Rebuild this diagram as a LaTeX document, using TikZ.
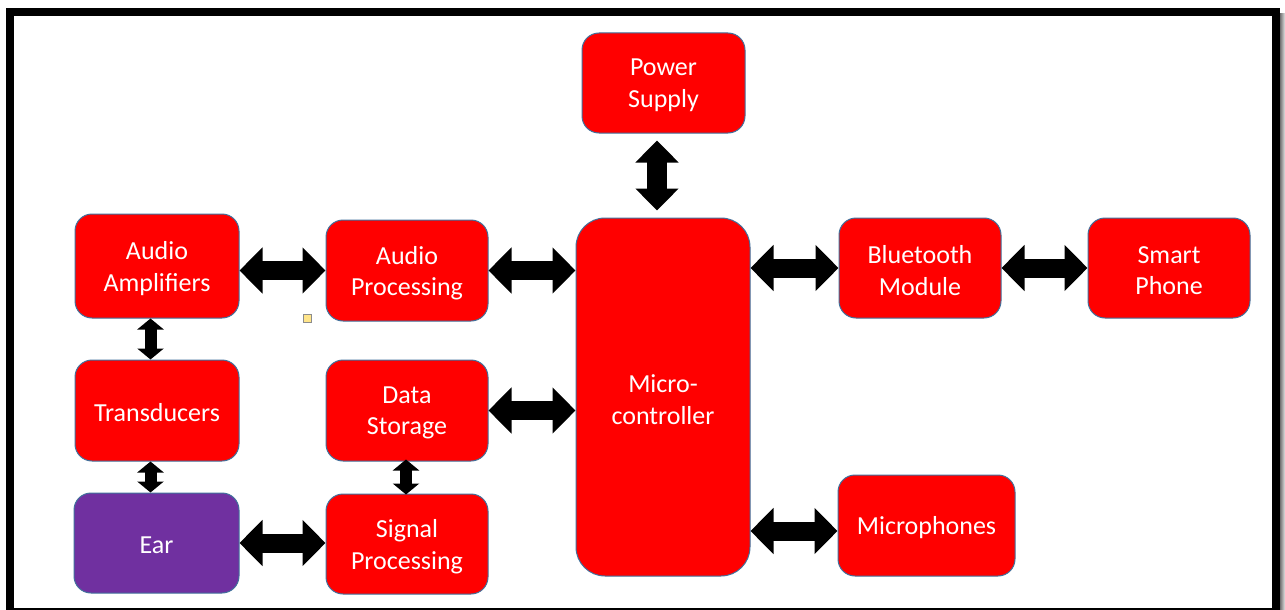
\documentclass[tikz,border=0pt]{standalone}
\usepackage{fontspec}
\setmainfont{Carlito}
\usetikzlibrary{arrows.meta,calc}

\definecolor{boxred}{HTML}{FF0000}
\definecolor{boxedge}{HTML}{41719C}
\definecolor{earpurple}{HTML}{7030A0}
\definecolor{handlefill}{HTML}{FFE58A}

\newcommand{\boxfont}{\fontsize{26}{31.5}\selectfont}

\tikzset{
  box/.style={rectangle, rounded corners=17pt, fill=boxred, draw=boxedge,
    line width=1pt, inner sep=0pt},
  caption/.style={align=center, text=white, font=\boxfont, inner sep=0pt, yshift=-2.5pt},
  harrow/.style={line width=19pt, draw=black,
    {Triangle[length=23pt,width=45pt]}-{Triangle[length=23pt,width=45pt]}},
  varrowbig/.style={line width=20pt, draw=black,
    {Triangle[length=22pt,width=42pt]}-{Triangle[length=22pt,width=42pt]}},
  varrowsmall/.style={line width=12pt, draw=black,
    {Triangle[length=11pt,width=26pt]}-{Triangle[length=11pt,width=26pt]}},
}

\begin{document}
\begin{tikzpicture}[x=1pt,y=-1pt]
\useasboundingbox (0,0) rectangle (1285,610);
\fill[white] (0,0) rectangle (1285,610);

% slide frame with its shadow on the right
\shade[left color=black!55, right color=black!10] (1280,14) rectangle (1285,610);
\draw[black, line width=8pt] (10,12) rectangle (1276,611.7);

% blocks
\node[box, minimum width=163pt, minimum height=100pt,
  label={[caption]center:Power\\Supply}] (ps) at (663.5,83) {};
\node[box, minimum width=164pt, minimum height=104pt,
  label={[caption]center:Audio\\Amplifiers}] (aa) at (157,266) {};
\node[box, minimum width=162pt, minimum height=101pt,
  label={[caption]center:Audio\\Processing}] (ap) at (407,270.5) {};
\node[box, rounded corners=29pt, minimum width=174pt, minimum height=358pt,
  label={[caption]center:Micro-\\controller}] (mc) at (663,397) {};
\node[box, minimum width=162pt, minimum height=100pt,
  label={[caption]center:Bluetooth\\Module}] (bt) at (920,268) {};
\node[box, minimum width=162pt, minimum height=100pt,
  label={[caption]center:Smart\\Phone}] (sp) at (1169,268) {};
\node[box, minimum width=164pt, minimum height=101pt,
  label={[caption]center:Transducers}] (td) at (157,410.5) {};
\node[box, minimum width=162pt, minimum height=101pt,
  label={[caption]center:Data\\Storage}] (ds) at (407,410.5) {};
\node[box, fill=earpurple, minimum width=165pt, minimum height=100pt,
  label={[caption]center:Ear}] (ear) at (156.5,543) {};
\node[box, minimum width=162pt, minimum height=100pt,
  label={[caption]center:Signal\\Processing}] (sig) at (407,544) {};
\node[box, minimum width=177pt, minimum height=101pt,
  label={[caption]center:Microphones}] (mic) at (926.5,525.5) {};

% small selection handle
\node[rectangle, draw=black!45, fill=handlefill, line width=0.8pt,
  minimum size=8pt, inner sep=0pt] (handle) at (307,318) {};

% horizontal links
\draw[harrow] (aa.east |- ap.west) -- (ap.west);
\draw[harrow] (ap.east) -- (ap.east -| mc.west);
\draw[harrow] (ds.east) -- (ds.east -| mc.west);
\draw[harrow] (mc.east |- bt.west) -- (bt.west);
\draw[harrow] (bt.east) -- (sp.west);
\path ([yshift=-5.5pt]mic.west) coordinate (micin);
\draw[harrow] (mc.east |- micin) -- (micin);
\draw[harrow] (ear.east) -- (ear.east -| sig.west);

% vertical links
\draw[varrowbig, shorten <=7pt, shorten >=7pt]
  ([xshift=-6.5pt]ps.south) -- ([xshift=-6.5pt]ps.south |- mc.north);
\draw[varrowsmall] ([xshift=-6.5pt]aa.south) -- ([xshift=-6.5pt]td.north);
\draw[varrowsmall] ([xshift=-6.5pt]td.south) -- ([xshift=-6.5pt]td.south |- ear.north);
\draw[varrowsmall, shorten <=-2pt, shorten >=-1pt]
  ([xshift=-1pt]ds.south) -- ([xshift=-1pt]ds.south |- sig.north);
\end{tikzpicture}
\end{document}
